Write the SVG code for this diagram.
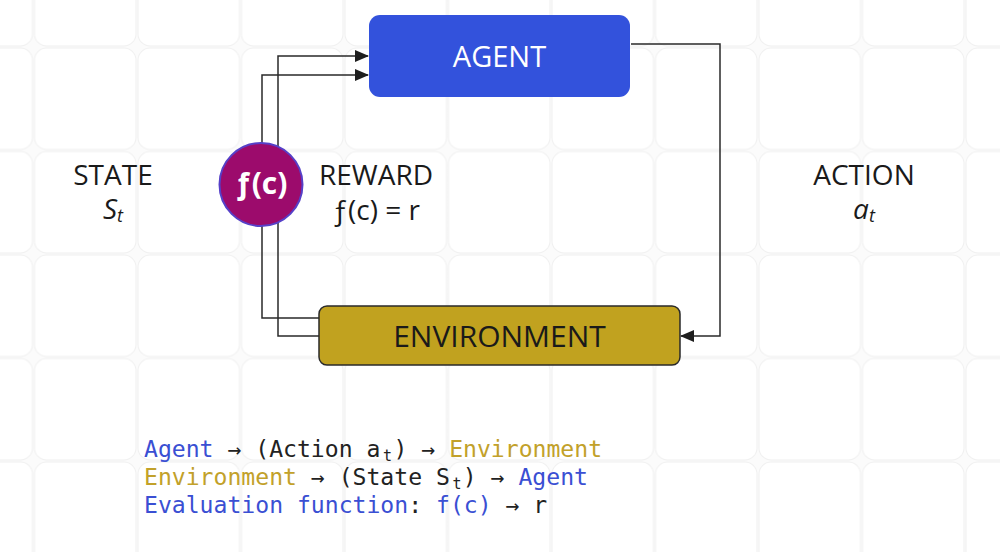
<svg xmlns="http://www.w3.org/2000/svg" width="1000" height="552" viewBox="0 0 1000 552">
<defs>
<pattern id="grid" patternUnits="userSpaceOnUse" x="33.5" y="47" width="103.5" height="103.5">
<rect x="1" y="1" width="101.5" height="101.5" rx="12" fill="#ffffff" stroke="#f0f0f0" stroke-width="1"/>
</pattern>
<marker id="arr" markerWidth="14" markerHeight="12" refX="13" refY="6" orient="auto" markerUnits="userSpaceOnUse">
<path d="M0,0 L14,6 L0,12 Z" fill="#1e1e1e"/>
</marker>
<style>
.lbl{font-family:"Open Sans","Noto Sans",sans-serif;font-size:28px;fill:#1a1a1a;text-anchor:middle}
.it{font-style:italic}
.sub{font-size:18px;font-style:italic}
.conn{fill:none;stroke:#2a2a2a;stroke-width:1.5}
.code{font-family:"DejaVu Sans Mono","Liberation Mono",monospace;font-size:23.1px;fill:#222}
.b{fill:#3a4fd3}
.y{fill:#c2a12a}
.k{fill:#222}
</style>
</defs>
<rect width="1000" height="552" fill="#fbfbfb"/>
<rect width="1000" height="552" fill="url(#grid)"/>
<g id="connectors">
<path class="conn" d="M631,44 H720 V336 H681" marker-end="url(#arr)"/>
<path class="conn" d="M319,318 H262 V75 H368" marker-end="url(#arr)"/>
<path class="conn" d="M319,336 H278 V56 H368" marker-end="url(#arr)"/>
</g>
<g id="agent">
<rect x="369" y="15" width="261" height="82" rx="11" fill="#3352dc"/>
<text x="499.5" y="67" class="lbl" style="fill:#ffffff;font-size:29px">AGENT</text>
</g>
<g id="environment">
<rect x="319" y="306" width="361" height="59" rx="8" fill="#c1a21f" stroke="#2a2a2a" stroke-width="1.5"/>
<text x="499.5" y="347" class="lbl" style="font-size:30px">ENVIRONMENT</text>
</g>
<g id="fc">
<circle cx="261" cy="184.5" r="41.5" fill="#9c0b6c" stroke="#5640c8" stroke-width="2"/>
<text x="261" y="194" class="lbl" style="fill:#ffffff;font-size:30px;font-weight:bold">ƒ(c)</text>
</g>
<g id="state">
<text x="113" y="185" class="lbl">STATE</text>
<text x="113" y="219" class="lbl"><tspan class="it">S</tspan><tspan class="sub" dy="3">t</tspan></text>
</g>
<g id="reward">
<text x="376" y="185" class="lbl">REWARD</text>
<text x="376" y="220" class="lbl">ƒ(c) = r</text>
</g>
<g id="action">
<text x="864" y="185" class="lbl">ACTION</text>
<text x="864" y="219" class="lbl"><tspan class="it">a</tspan><tspan class="sub" dy="3">t</tspan></text>
</g>
<g id="legend">
<text class="code" x="144" y="457" xml:space="preserve"><tspan class="b">Agent</tspan><tspan class="k"> → (Action a</tspan><tspan class="k" style="font-size:15px" x="383" dy="4">t</tspan><tspan class="k" x="393.5" dy="-4">) → </tspan><tspan class="y">Environment</tspan></text>
<text class="code" x="144" y="485" xml:space="preserve"><tspan class="y">Environment</tspan><tspan class="k"> → (State S</tspan><tspan class="k" style="font-size:15px" x="452.5" dy="4">t</tspan><tspan class="k" x="462.8" dy="-4">) → </tspan><tspan class="b">Agent</tspan></text>
<text class="code" x="144" y="513" xml:space="preserve"><tspan class="b">Evaluation function</tspan><tspan class="k">: </tspan><tspan class="b">f(c)</tspan><tspan class="k"> → r</tspan></text>
</g>
</svg>
